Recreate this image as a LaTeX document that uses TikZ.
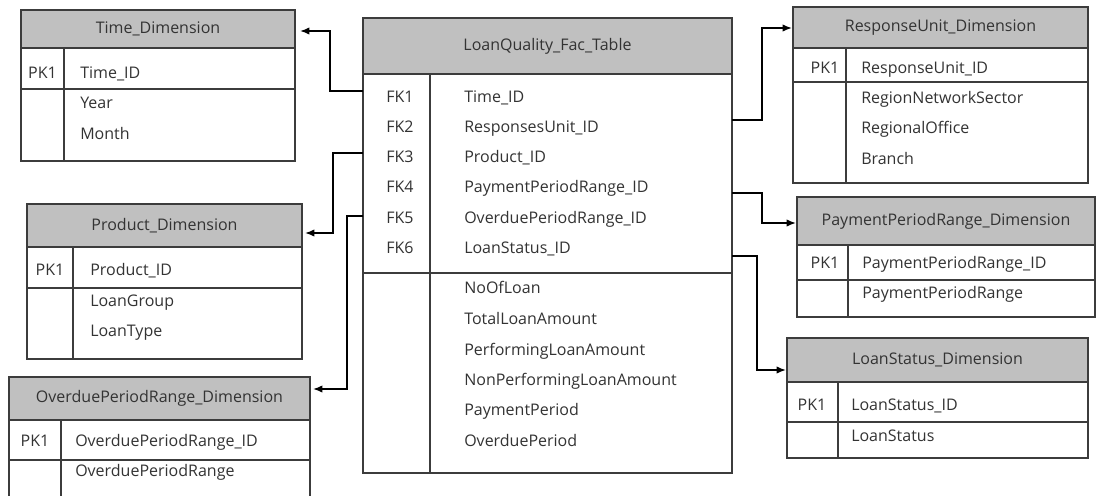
\documentclass[tikz,border=0pt]{standalone}
\usepackage{fontspec}
\setmainfont{Open Sans}
\usetikzlibrary{arrows.meta}
\definecolor{hdrc}{HTML}{C0C0C0}
\definecolor{bordc}{HTML}{3C3C3C}
\definecolor{txtc}{HTML}{333333}
\newcommand{\dimtbl}[9]{%
  \draw[hdrbox] (#2,#3) rectangle (#4,#5);
  \node[ttl] (#1) at ({(#2+#4)/2},{(#3+#5)/2}) {#9};
  \draw[bodybox] (#2,#5) rectangle (#4,#7);
  \draw[bodybox] (#8,#5) -- (#8,#7);
  \draw[bodybox] (#2,#6) -- (#4,#6);
}
\begin{document}
\begin{tikzpicture}[x=0.75pt,y=-0.75pt,
  hdrbox/.style={draw=bordc,fill=hdrc,line width=0.9pt},
  bodybox/.style={draw=bordc,fill=none,line width=0.9pt},
  ttl/.style={font=\fontsize{12}{14}\selectfont,text=txtc,inner sep=0pt},
  fld/.style={font=\fontsize{12}{14}\selectfont,text=txtc,inner sep=0pt,anchor=west,text height=8.6pt,text depth=0pt},
  key/.style={font=\fontsize{12}{14}\selectfont,text=txtc,inner sep=0pt,anchor=center,text height=8.6pt,text depth=0pt},
  conn/.style={draw=black,line width=1.1pt,-{Latex[length=7pt,width=5.5pt]}}]
\useasboundingbox (0,0) rectangle (1096,496);
\clip (0,0) rectangle (1096,496);
\fill[white] (0,0) rectangle (1096,496);

% Time dimension
\dimtbl{time}{21}{10}{295}{48}{89}{161}{64}{Time\_Dimension}
\node[key] (timepk) at (42.5,73) {PK1};
\node[fld] (timef1) at (80,73) {Time\_ID};
\node[fld] (timef2) at (80,103) {Year};
\node[fld] (timef3) at (80,134) {Month};

% Product dimension
\dimtbl{prod}{27}{204}{302}{247}{288}{359}{73}{Product\_Dimension}
\node[key] (prodpk) at (50,270) {PK1};
\node[fld] (prodf1) at (90,270) {Product\_ID};
\node[fld] (prodf2) at (90,301) {LoanGroup};
\node[fld] (prodf3) at (90,331) {LoanType};

% Overdue dimension
\dimtbl{over}{9}{377}{310}{420}{460}{505}{61}{OverduePeriodRange\_Dimension}
\node[key] (overpk) at (35,441) {PK1};
\node[fld] (overf1) at (75,441) {OverduePeriodRange\_ID};
\node[fld] (overf2) at (75,471) {OverduePeriodRange};

% Fact table
\dimtbl{fact}{363}{18}{732}{74}{273}{473}{430}{LoanQuality\_Fac\_Table}
\node[key] (fk1) at (400,97) {FK1};
\node[key] (fk2) at (400,127) {FK2};
\node[key] (fk3) at (400,157) {FK3};
\node[key] (fk4) at (400,187) {FK4};
\node[key] (fk5) at (400,218) {FK5};
\node[key] (fk6) at (400,248) {FK6};
\node[fld] (ff1) at (464,97) {Time\_ID};
\node[fld] (ff2) at (464,127) {ResponsesUnit\_ID};
\node[fld] (ff3) at (464,157) {Product\_ID};
\node[fld] (ff4) at (464,187) {PaymentPeriodRange\_ID};
\node[fld] (ff5) at (464,218) {OverduePeriodRange\_ID};
\node[fld] (ff6) at (464,248) {LoanStatus\_ID};
\node[fld] (fm1) at (464,288) {NoOfLoan};
\node[fld] (fm2) at (464,319) {TotalLoanAmount};
\node[fld] (fm3) at (464,350) {PerformingLoanAmount};
\node[fld] (fm4) at (464,380) {NonPerformingLoanAmount};
\node[fld] (fm5) at (464,410) {PaymentPeriod};
\node[fld] (fm6) at (464,441) {OverduePeriod};

% ResponseUnit dimension
\dimtbl{resp}{793}{7}{1088}{48}{82}{183}{846}{ResponseUnit\_Dimension}
\node[key] (resppk) at (825,68) {PK1};
\node[fld] (respf1) at (861,68) {ResponseUnit\_ID};
\node[fld] (respf2) at (861,98) {RegionNetworkSector};
\node[fld] (respf3) at (861,128) {RegionalOffice};
\node[fld] (respf4) at (861,159) {Branch};

% PaymentPeriodRange dimension
\dimtbl{pay}{797}{197}{1095}{245}{280}{317}{848}{PaymentPeriodRange\_Dimension}
\node[key] (paypk) at (825,263) {PK1};
\node[fld] (payf1) at (862,263) {PaymentPeriodRange\_ID};
\node[fld] (payf2) at (862,293) {PaymentPeriodRange};

% LoanStatus dimension
\dimtbl{stat}{787}{338}{1088}{382}{422}{458}{838}{LoanStatus\_Dimension}
\node[key] (statpk) at (812,405) {PK1};
\node[fld] (statf1) at (851,405) {LoanStatus\_ID};
\node[fld] (statf2) at (851,436) {LoanStatus};

% connector end points
\coordinate (s1) at (363,91);  \coordinate (e1) at (300,31);
\coordinate (s3) at (363,153); \coordinate (e3) at (305,233);
\coordinate (s5) at (363,216); \coordinate (e5) at (313,389);
\coordinate (s2) at (732,120); \coordinate (e2) at (792,28);
\coordinate (s4) at (732,193); \coordinate (e4) at (796,223);
\coordinate (s6) at (732,256); \coordinate (e6) at (786,370);

\draw[conn] (s1) -- (330,91) |- (e1);
\draw[conn] (s3) -- (333,153) |- (e3);
\draw[conn] (s5) -- (347,216) |- (e5);
\draw[conn] (s2) -- (762,120) |- (e2);
\draw[conn] (s4) -- (762,193) |- (e4);
\draw[conn] (s6) -- (757,256) |- (e6);
\end{tikzpicture}
\end{document}
